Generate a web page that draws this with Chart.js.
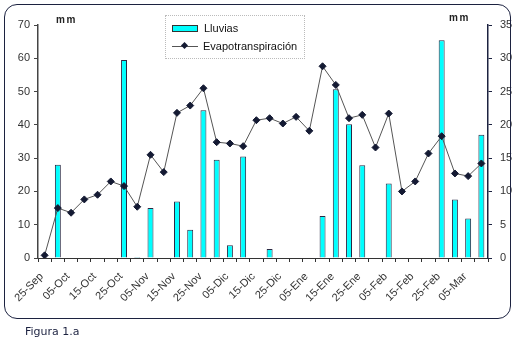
<!DOCTYPE html>
<html>
<head>
<meta charset="utf-8">
<script src="https://cdn.jsdelivr.net/npm/chart.js@4.4.1/dist/chart.umd.min.js"></script>
<style>
  body { margin:0; background:#fff; }
  #wrap { position:relative; width:515px; height:342px; font-family:'Liberation Sans', Arial, sans-serif; }
  #frame { position:absolute; left:4px; top:4px; width:505px; height:313px; border:1.5px solid #1c2240; border-radius:13px; pointer-events:none; }
  .mm { position:absolute; font-size:10px; font-weight:bold; color:#222; letter-spacing:1.5px; }
  #legend { position:absolute; left:165px; top:15px; width:138px; height:42px; border:1px dotted #bbb; background:#fff; font-size:11px; color:#111; }
  .item { position:absolute; left:6px; height:14px; display:flex; align-items:center; }
  .swatch { width:24px; height:5px; background:#00ffff; border:1px solid #333; margin-right:6px; }
  .lsym { position:relative; width:26px; height:10px; margin-right:5px; }
  .lsym:before { content:''; position:absolute; left:0; right:0; top:5px; height:1px; background:#555; }
  .lsym:after { content:''; position:absolute; left:10px; top:2px; width:5px; height:5px; background:#141a33; transform:rotate(45deg); }
  #fig { position:absolute; left:25px; top:325px; font-family:'DejaVu Sans', sans-serif; font-size:11px; color:#1c2240; }
  canvas { position:absolute; left:0; top:0; }
</style>
</head>
<body>
<div id="wrap">
  <canvas id="chart" width="515" height="342"></canvas>
  <div id="frame"></div>
  <span class="mm" style="left:56px; top:14px;">mm</span>
  <span class="mm" style="left:449px; top:12px;">mm</span>
  <div id="legend">
    <div class="item" style="top:5px;"><span class="swatch"></span>Lluvias</div>
    <div class="item" style="top:23px;"><span class="lsym"></span>Evapotranspiración</div>
  </div>
  <div id="fig">Figura 1.a</div>
</div>
<script>
const fechas = ['25-Sep','30-Sep','05-Oct','10-Oct','15-Oct','20-Oct','25-Oct','30-Oct',
  '05-Nov','10-Nov','15-Nov','20-Nov','25-Nov','30-Nov','05-Dic','10-Dic','15-Dic','20-Dic',
  '25-Dic','30-Dic','05-Ene','10-Ene','15-Ene','20-Ene','25-Ene','30-Ene','05-Feb','10-Feb',
  '15-Feb','20-Feb','25-Feb','28-Feb','05-Mar','10-Mar'];

// mm, eje izquierdo
const lluvias = [0,28,0,0,0,0,59.5,0.3,15,0,17,8.5,44.4,29.5,3.8,30.5,0,2.7,
  0,0,0,12.6,50.7,40.2,27.9,0,22.4,0,0,0,65.4,17.6,11.9,37];

// mm, eje derecho
const evapo = [0.4,7.5,6.8,8.8,9.5,11.5,10.8,7.7,15.5,12.9,21.8,22.9,25.5,17.4,17.2,16.8,
  20.7,21.0,20.2,21.2,19.1,28.8,26.0,21.0,21.5,16.6,21.7,10.0,11.5,15.7,18.3,12.7,12.3,14.2];

const ticksIzq = [0,10,20,30,40,50,60,70];
const ticksDer = [0,5,10,15,20,25,30,35];

const tickFont = { family:"'Liberation Sans', Arial, sans-serif", size:11 };

new Chart(document.getElementById('chart'), {
  type:'bar',
  data:{
    labels:fechas,
    datasets:[
      {
        type:'line',
        label:'Evapotranspiración',
        data:evapo,
        yAxisID:'y1',
        borderColor:'#555',
        borderWidth:1,
        pointStyle:'rectRot',
        pointRadius:3.5,
        pointBackgroundColor:'#141a33',
        pointBorderColor:'#141a33',
        tension:0,
        order:0
      },
      {
        label:'Lluvias',
        data:lluvias,
        yAxisID:'y',
        backgroundColor:'#00ffff',
        borderColor:'#2a2a44',
        borderWidth:1,
        barPercentage:0.9,
        categoryPercentage:0.5,
        order:1
      }
    ]
  },
  options:{
    responsive:false,
    animation:false,
    layout:{ padding:{ top:25, left:0, right:0, bottom:0 } },
    plugins:{ legend:{ display:false }, tooltip:{ enabled:false } },
    scales:{
      x:{
        afterFit(s){ s.height = 84; },
        border:{ color:'#333', width:1 },
        grid:{ drawOnChartArea:false, tickLength:4, color:'#333', offset:true },
        ticks:{
          autoSkip:false, maxRotation:45, minRotation:45, padding:8, labelOffset:-3,
          color:'#333', font:tickFont,
          callback:(v,i) => i % 2 === 0 ? fechas[i] : ''
        }
      },
      y:{
        position:'left',
        min:0, max:70,
        afterFit(s){ s.width = 38; },
        afterBuildTicks(s){ s.ticks = ticksIzq.map(v => ({ value:v })); },
        border:{ color:'#444', width:1.5 },
        grid:{ drawOnChartArea:false, tickLength:4, color:'#444' },
        ticks:{ padding:4, color:'#333', font:tickFont }
      },
      y1:{
        position:'right',
        min:0, max:35,
        afterFit(s){ s.width = 27; },
        afterBuildTicks(s){ s.ticks = ticksDer.map(v => ({ value:v })); },
        border:{ color:'#1c2240', width:1.5 },
        grid:{ drawOnChartArea:false, tickLength:4, color:'#1c2240' },
        ticks:{ padding:8, color:'#333', font:tickFont }
      }
    }
  }
});
</script>
</body>
</html>
